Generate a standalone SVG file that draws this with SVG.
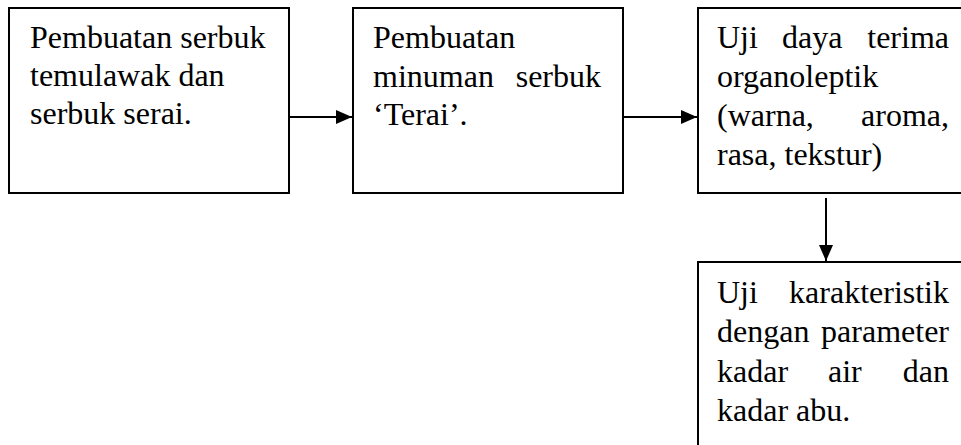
<svg xmlns="http://www.w3.org/2000/svg" width="961" height="445" viewBox="0 0 961 445">
<style>
.box{fill:#fff;stroke:#000;stroke-width:2}
.t{font-family:"Liberation Serif","Times New Roman",serif;font-size:32px;fill:#000}
.e{text-anchor:end}
.c{stroke:#000;stroke-width:2;fill:none}
</style>
<defs>
<marker id="ah" markerWidth="16" markerHeight="14" refX="16" refY="7" orient="auto" markerUnits="userSpaceOnUse">
<path d="M0,0 L16,7 L0,14 Z" fill="#000"/>
</marker>
</defs>
<rect width="961" height="445" fill="#fff"/>
<g id="node1">
<rect class="box" x="9" y="8" width="280" height="185"/>
<text class="t" x="30" y="48">Pembuatan serbuk</text>
<text class="t" x="30" y="86">temulawak dan</text>
<text class="t" x="30" y="124">serbuk serai.</text>
</g>
<g id="node2">
<rect class="box" x="353" y="8" width="270" height="185"/>
<text class="t" x="373" y="48">Pembuatan</text>
<text class="t" x="373" y="87">minuman</text>
<text class="t e" x="601" y="87">serbuk</text>
<text class="t" x="373" y="125">‘Terai’.</text>
</g>
<g id="node3">
<rect class="box" x="698" y="8" width="275" height="185"/>
<text class="t" x="717" y="48">Uji</text>
<text class="t" x="782" y="48">daya</text>
<text class="t e" x="949" y="48">terima</text>
<text class="t" x="717" y="87">organoleptik</text>
<text class="t" x="717" y="126">(warna,</text>
<text class="t e" x="949" y="126">aroma,</text>
<text class="t" x="717" y="165">rasa, tekstur)</text>
</g>
<g id="node4">
<rect class="box" x="698" y="262" width="275" height="200"/>
<text class="t" x="717" y="303">Uji</text>
<text class="t e" x="949" y="303">karakteristik</text>
<text class="t" x="717" y="342">dengan</text>
<text class="t e" x="949" y="342">parameter</text>
<text class="t" x="717" y="382">kadar</text>
<text class="t" x="828" y="382">air</text>
<text class="t e" x="949" y="382">dan</text>
<text class="t" x="717" y="421">kadar abu.</text>
</g>
<g id="connectors">
<line class="c" x1="289" y1="117" x2="352" y2="117" marker-end="url(#ah)"/>
<line class="c" x1="623" y1="117" x2="697" y2="117" marker-end="url(#ah)"/>
<line class="c" x1="826" y1="198" x2="826" y2="261" marker-end="url(#ah)"/>
</g>
</svg>
